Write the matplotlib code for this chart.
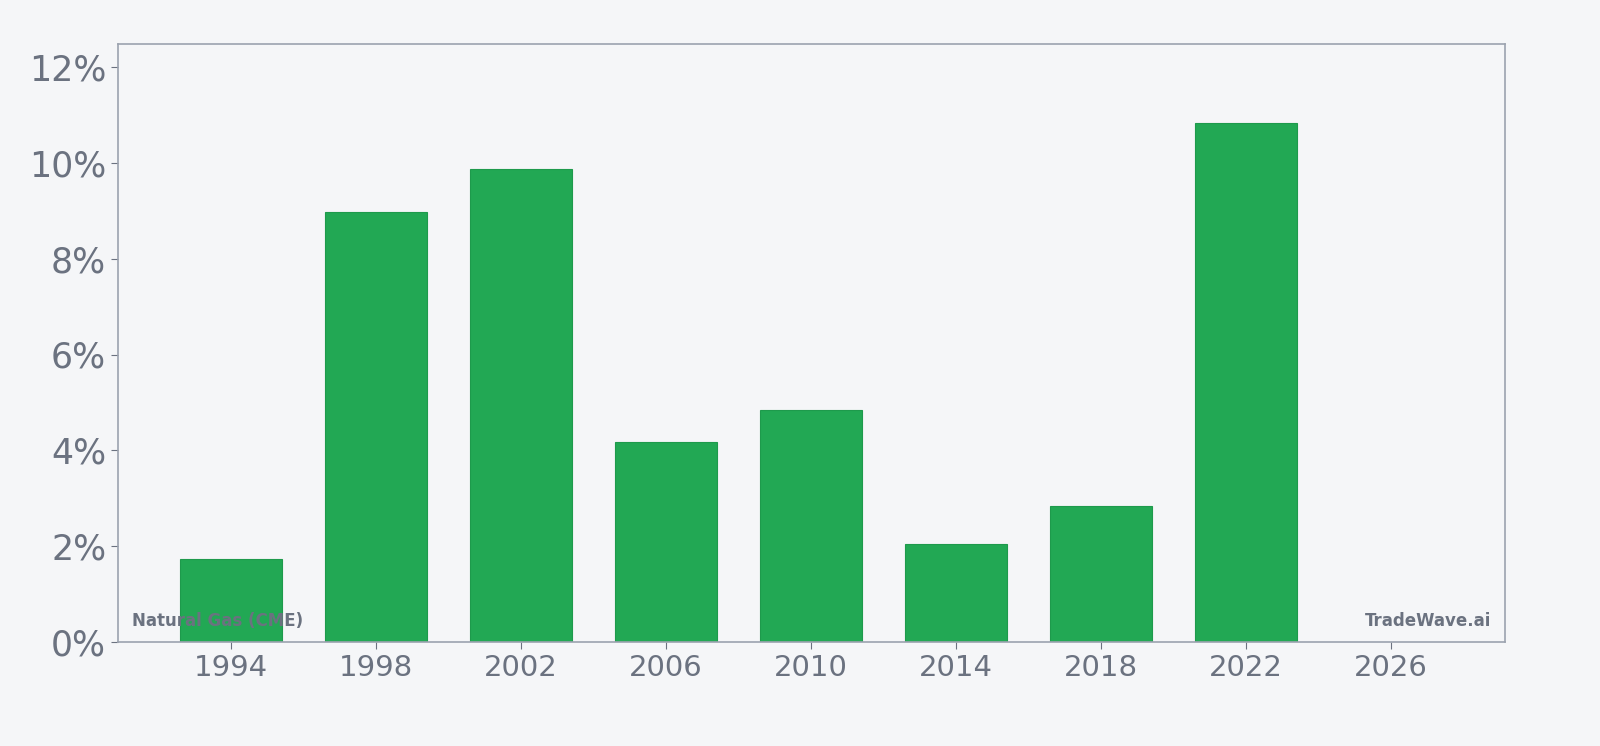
import matplotlib
matplotlib.use("Agg")
import matplotlib.pyplot as plt
from matplotlib.ticker import FuncFormatter

years = [1994, 1998, 2002, 2006, 2010, 2014, 2018, 2022]
values = [1.73, 8.98, 9.87, 4.18, 4.84, 2.05, 2.84, 10.84]
xticks = [1994, 1998, 2002, 2006, 2010, 2014, 2018, 2022, 2026]
yticks = [0, 2, 4, 6, 8, 10, 12]

bg = "#f5f6f8"
tc = "#6b7280"
fig = plt.figure(figsize=(16, 7.46), dpi=100, facecolor=bg)
ax = fig.add_axes([118/1600, 1-642/746, (1505-118)/1600, (642-44)/746])
ax.set_facecolor(bg)
ax.bar(years, values, width=2.8, color="#22a854", edgecolor="#1e9a4c", linewidth=0.8)
ax.set_xlim(1990.88, 2029.14)
ax.set_ylim(0, 12.48)
ax.set_xticks(xticks)
ax.set_yticks(yticks)
ax.yaxis.set_major_formatter(FuncFormatter(lambda v, p: f"{v:.0f}%"))
ax.tick_params(axis="x", labelsize=21, colors=tc, length=5)
ax.tick_params(axis="y", labelsize=25, colors=tc, length=5)
for s in ax.spines.values():
    s.set_color("#9ca3af")
    s.set_linewidth(1.2)
ax.text(0.01, 0.02, "Natural Gas (CME)", transform=ax.transAxes, fontsize=12,
        fontweight="bold", color=tc, ha="left", va="bottom")
ax.text(0.99, 0.02, "TradeWave.ai", transform=ax.transAxes, fontsize=12,
        fontweight="bold", color=tc, ha="right", va="bottom")
fig.savefig("out.png", dpi=100, facecolor=bg)
